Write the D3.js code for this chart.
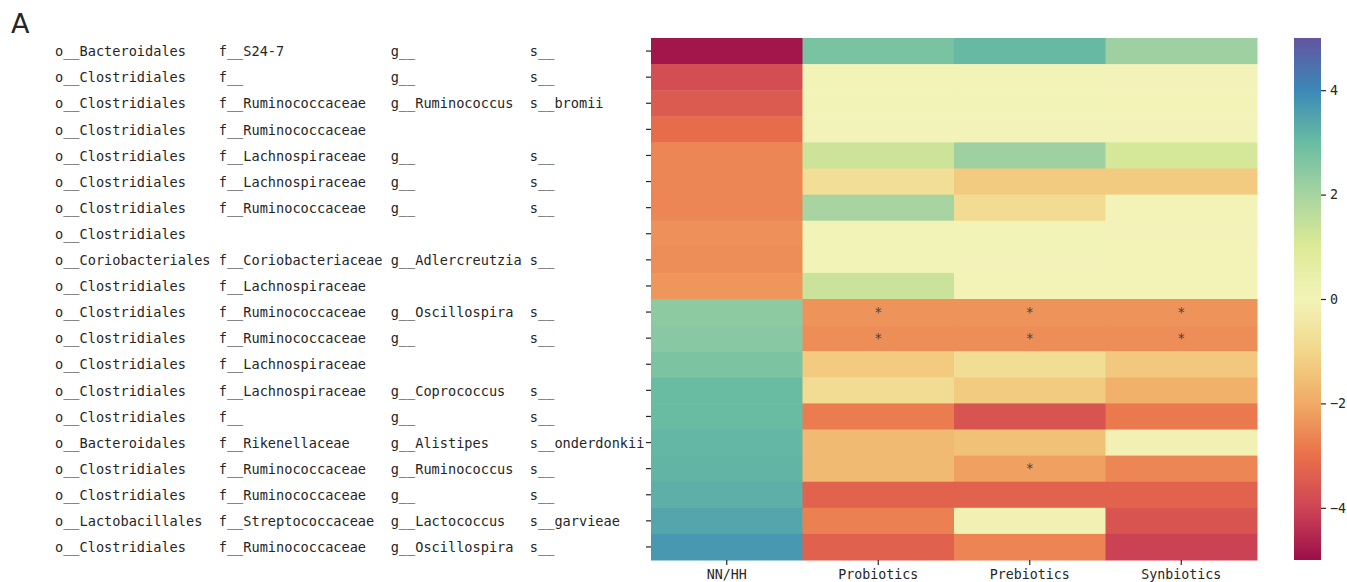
<!DOCTYPE html>
<html>
<head>
<meta charset="utf-8">
<script src="https://cdn.jsdelivr.net/npm/d3@7"></script>
<style>
  body { margin: 0; background: #fff; }
  svg { display: block; }
  text { fill: #262626; }
</style>
</head>
<body>
<svg id="chart" width="1347" height="582"></svg>
<script>
// ---------- data ----------
const columns = ["NN/HH", "Probiotics", "Prebiotics", "Synbiotics"];
const orders = ["o__Bacteroidales","o__Clostridiales","o__Clostridiales","o__Clostridiales","o__Clostridiales",
  "o__Clostridiales","o__Clostridiales","o__Clostridiales","o__Coriobacteriales","o__Clostridiales",
  "o__Clostridiales","o__Clostridiales","o__Clostridiales","o__Clostridiales","o__Clostridiales",
  "o__Bacteroidales","o__Clostridiales","o__Clostridiales","o__Lactobacillales","o__Clostridiales"];
const families = ["f__S24-7","f__","f__Ruminococcaceae","f__Ruminococcaceae","f__Lachnospiraceae",
  "f__Lachnospiraceae","f__Ruminococcaceae","","f__Coriobacteriaceae","f__Lachnospiraceae",
  "f__Ruminococcaceae","f__Ruminococcaceae","f__Lachnospiraceae","f__Lachnospiraceae","f__",
  "f__Rikenellaceae","f__Ruminococcaceae","f__Ruminococcaceae","f__Streptococcaceae","f__Ruminococcaceae"];
const genera = ["g__","g__","g__Ruminococcus","","g__",
  "g__","g__","","g__Adlercreutzia","",
  "g__Oscillospira","g__","","g__Coprococcus","g__",
  "g__Alistipes","g__Ruminococcus","g__","g__Lactococcus","g__Oscillospira"];
const species = ["s__","s__","s__bromii","","s__",
  "s__","s__","","s__","",
  "s__","s__","","s__","s__",
  "s__onderdonkii","s__","s__","s__garvieae","s__"];

const nnhh       = [-4.85,-3.8,-3.5,-3.1,-2.6,-2.6,-2.6,-2.45,-2.5,-2.35, 2.4, 2.5, 2.7, 3.0, 3.0, 3.1, 3.15, 3.25, 3.45, 3.7];
const probiotics = [ 2.75, 0.05, 0.05, 0.0, 1.3,-0.75, 2.0, 0.05, 0.05, 1.35,-2.4,-2.5,-1.3,-0.85,-2.8,-1.65,-1.65,-3.3,-2.7,-3.35];
const prebiotics = [ 3.05, 0.05, 0.05, 0.0, 2.15,-1.3,-0.85, 0.05,-0.02, 0.02,-2.4,-2.5,-0.8,-1.3,-3.65,-1.5,-2.15,-3.3,-0.1,-2.65];
const synbiotics = [ 2.15,-0.02, 0.02, 0.0, 1.15,-1.3, 0.02,-0.02, 0.02, 0.02,-2.4,-2.5,-1.35,-1.85,-2.85,-0.1,-2.6,-3.3,-3.65,-4.05];

const starProbiotics = [10, 11];
const starPrebiotics = [10, 11, 16];
const starSynbiotics = [10, 11];

const colorbarTicks = [-4, -2, 0, 2, 4];
const spectralColors = ["#9e0142","#d53e4f","#f46d43","#fdae61","#fee08b","#ffffbf","#e6f598","#abdda4","#66c2a5","#3288bd","#5e4fa2"];

// ---------- layout ----------
const svg = d3.select("#chart");
const hm = {x0: 651, x1: 1257, y0: 38, y1: 560};
const cb = {x0: 1294, x1: 1321};
const mono = "'DejaVu Sans Mono', monospace";
const nRows = nnhh.length;
const rowIdx = d3.range(nRows);

// slightly muted palette (as in the reference rendering)
const muted = spectralColors.map(c => {
  const rgb = d3.rgb(c);
  return d3.rgb(rgb.r * 0.9 + 13.5, rgb.g * 0.9 + 13.5, rgb.b * 0.9 + 13.5).formatHex();
});

const x = d3.scaleBand().domain(columns).range([hm.x0, hm.x1]);
const y = d3.scaleBand().domain(rowIdx).range([hm.y0, hm.y1]);
const vmin = -5, vmax = 5;
const color = d3.scaleLinear()
  .domain(d3.range(muted.length).map(i => vmin + i * (vmax - vmin) / (muted.length - 1)))
  .range(muted)
  .interpolate(d3.interpolateRgb)
  .clamp(true);

const series = [nnhh, probiotics, prebiotics, synbiotics];
const stars = [[], starProbiotics, starPrebiotics, starSynbiotics];
const cells = [];
series.forEach((vals, ci) => vals.forEach((v, ri) => cells.push({col: columns[ci], row: ri, v, star: stars[ci].includes(ri)})));

svg.append("g").selectAll("rect").data(cells).join("rect")
  .attr("x", d => x(d.col))
  .attr("y", d => y(d.row))
  .attr("width", x.bandwidth() + 0.5)
  .attr("height", y.bandwidth() + 0.5)
  .attr("fill", d => color(d.v));

svg.append("g").selectAll("text").data(cells.filter(d => d.star)).join("text")
  .attr("x", d => x(d.col) + x.bandwidth() / 2)
  .attr("y", d => y(d.row) + y.bandwidth() / 2)
  .attr("dy", "0.35em")
  .attr("text-anchor", "middle")
  .style("font-family", mono)
  .style("font-size", "13.3px")
  .style("fill", "#444")
  .text("*");

// y axis ticks
const yAxis = svg.append("g").attr("transform", `translate(${hm.x0},0)`)
  .call(d3.axisLeft(y).tickSize(5).tickFormat(""));
yAxis.select(".domain").remove();
yAxis.selectAll("line").attr("stroke", "#262626").attr("stroke-width", 1.2);

// y labels (multi-column, monospace)
const fs = 13.6, cw = fs * 0.602;
const colChars = [0, 20, 41, 58];
const labelCols = [orders, families, genera, species];
const lab = svg.append("g").style("font-family", mono).style("font-size", fs + "px");
labelCols.forEach((arr, k) => {
  lab.append("g").selectAll("text").data(rowIdx).join("text")
    .attr("x", 55 + colChars[k] * cw)
    .attr("y", r => y(r) + y.bandwidth() / 2)
    .attr("dy", "0.38em")
    .text(r => arr[r]);
});

// x axis
const xAxis = svg.append("g").attr("transform", `translate(0,${hm.y1})`)
  .call(d3.axisBottom(x).tickSize(5).tickPadding(5));
xAxis.select(".domain").remove();
xAxis.selectAll("line").attr("stroke", "#262626").attr("stroke-width", 1.2);
xAxis.selectAll("text").style("font-family", mono).style("font-size", "13.3px").attr("fill", "#262626");

// colorbar
const cy = d3.scaleLinear().domain([vmin, vmax]).range([hm.y1, hm.y0]);
const defs = svg.append("defs");
const grad = defs.append("linearGradient").attr("id", "cbgrad")
  .attr("x1", 0).attr("y1", 1).attr("x2", 0).attr("y2", 0);
grad.selectAll("stop").data(muted).join("stop")
  .attr("offset", (d, i) => i / (muted.length - 1))
  .attr("stop-color", d => d);
svg.append("rect")
  .attr("x", cb.x0).attr("y", cy(vmax))
  .attr("width", cb.x1 - cb.x0).attr("height", cy(vmin) - cy(vmax))
  .attr("fill", "url(#cbgrad)");
const cAxis = svg.append("g").attr("transform", `translate(${cb.x1},0)`)
  .call(d3.axisRight(cy).tickValues(colorbarTicks).tickSize(5).tickPadding(4));
cAxis.select(".domain").remove();
cAxis.selectAll("line").attr("stroke", "#262626").attr("stroke-width", 1.2);
cAxis.selectAll("text").style("font-family", mono).style("font-size", "13.3px").attr("fill", "#262626");

// panel letter
svg.append("text").attr("x", 11).attr("y", 33)
  .style("font-family", "'DejaVu Sans', sans-serif").style("font-size", "27px")
  .text("A");
</script>
</body>
</html>
